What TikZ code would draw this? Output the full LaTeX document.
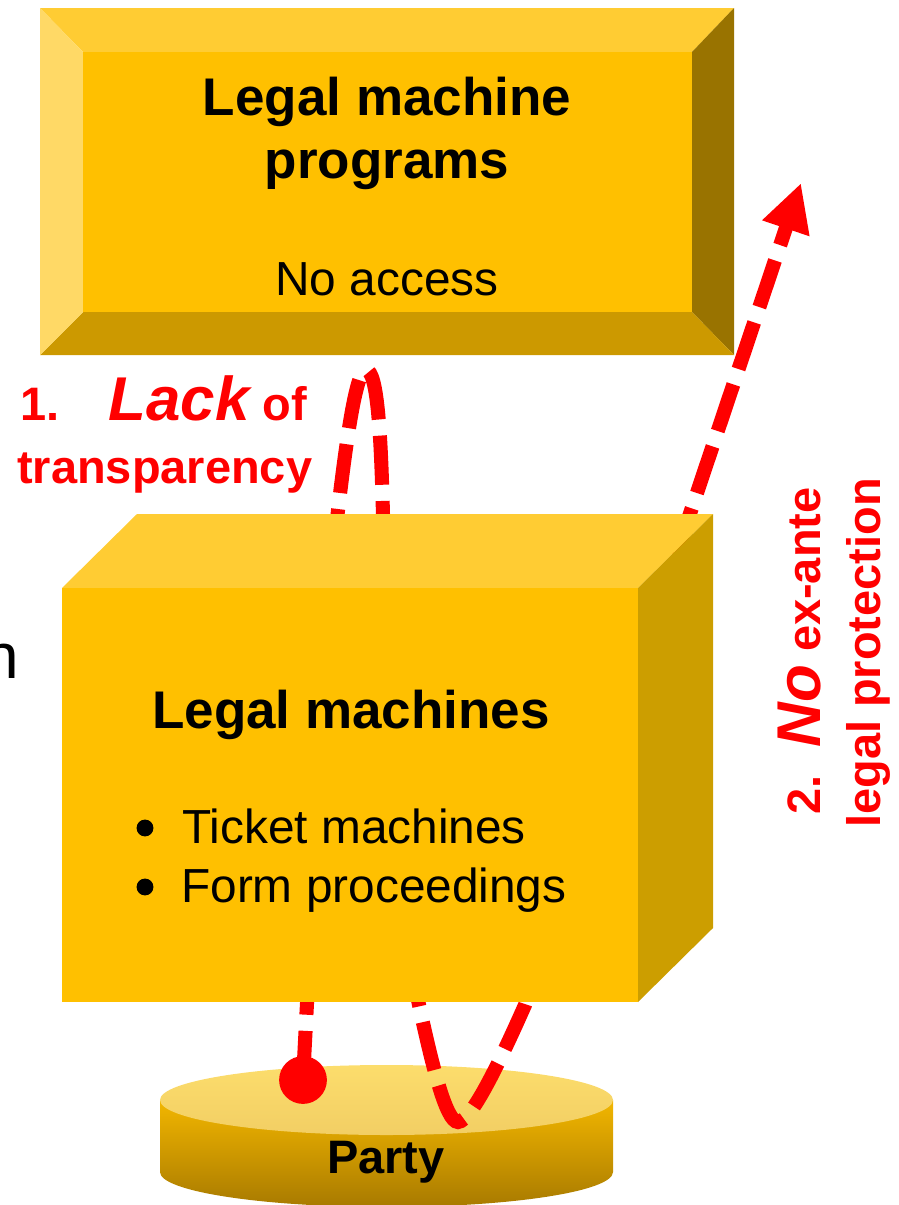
\documentclass[tikz,border=0pt]{standalone}
\usepackage{fontspec}
\setmainfont{Liberation Sans}
\usetikzlibrary{arrows.meta}
\definecolor{boxFace}{RGB}{255,192,0}
\definecolor{boxTop}{RGB}{255,204,51}
\definecolor{boxLeft}{RGB}{255,217,102}
\definecolor{boxRight}{RGB}{153,115,0}
\definecolor{boxBottom}{RGB}{204,153,0}
\definecolor{cubeSide}{RGB}{204,158,0}
\definecolor{partyTopA}{RGB}{252,221,108}
\definecolor{partyTopB}{RGB}{242,206,100}
\definecolor{partySideA}{RGB}{242,182,0}
\definecolor{partySideB}{RGB}{168,122,0}
\definecolor{markColor}{rgb}{1,0,0}
\newcommand{\markBig}[1]{{\fontsize{44}{50}\selectfont\itshape #1}}

\begin{document}
\begin{tikzpicture}[x=0.25mm,y=-0.25mm]

          \tikzstyle{titleText} = [font=\fontsize{37.7}{44}\selectfont\bfseries, anchor=base, inner sep=0pt];
          \tikzstyle{bodyText} = [font=\fontsize{34}{40}\selectfont, anchor=base west, inner sep=0pt];
          \tikzstyle{bulletDot} = [circle, fill=black, inner sep=0pt, minimum size=12pt];
          \tikzstyle{markText} = [markColor, font=\fontsize{33.4}{40}\selectfont\bfseries, anchor=base west, inner sep=0pt];
          \tikzstyle{markEdge} = [markColor, line width=10pt, dash pattern=on 35pt off 11.5pt];
          \tikzstyle{markDot} = [circle, fill=markColor, inner sep=0pt, minimum size=34pt];

          \useasboundingbox (0,0) rectangle (899,1205);

          % party
          \shade[top color=partySideA, bottom color=partySideB] (160,1100) -- (160,1172)
            arc[start angle=180, end angle=0, x radius=226.5, y radius=35] -- (613,1100) -- cycle;
          \shade[top color=partyTopA, bottom color=partyTopB] (386.5,1100) ellipse [x radius=226.5, y radius=35];

          % red connector, behind the boxes
          \node[markDot] (pdot) at (303,1080) {};
          \coordinate (riseA) at (328,600);
          \coordinate (loopTop) at (366,370);
          \coordinate (dropA) at (383,515);
          \coordinate (dropB) at (418,1000);
          \coordinate (turn) at (458,1122);
          \coordinate (riseB) at (525,1005);
          \coordinate (tip) at (801,183);
          \draw[markEdge, -{Triangle[length=34pt,width=33pt]}] (pdot.center) -- (riseA)
            .. controls (342,470) and (354,370) .. (loopTop)
            .. controls (378,370) and (381,440) .. (dropA) -- (dropB)
            .. controls (432,1065) and (446,1122) .. (turn)
            .. controls (472,1122) and (505,1050) .. (riseB) -- (tip);

          % top box
          \fill[boxTop] (40,8) -- (734,8) -- (692,52) -- (83,52) -- cycle;
          \fill[boxRight] (734,8) -- (734,355) -- (692,312) -- (692,52) -- cycle;
          \fill[boxBottom] (40,355) -- (734,355) -- (692,312) -- (83,312) -- cycle;
          \fill[boxLeft] (40,8) -- (40,355) -- (83,312) -- (83,52) -- cycle;
          \fill[boxFace] (83,52) rectangle (692,312);

          % cube
          \fill[boxTop] (62,588) -- (137,514) -- (713,514) -- (638,588) -- cycle;
          \fill[cubeSide] (638,588) -- (713,514) -- (713,928) -- (638,1002) -- cycle;
          \fill[boxFace] (62,588) rectangle (638,1002);

          \node[titleText] (progTitle) at (387,115) {Legal machine};
          \node[titleText] (progTitleB) at (387,178) {programs};
          \node[bodyText, anchor=base] (progNote) at (387,295) {No access};

          \node[titleText] (machTitle) at (351,728) {Legal machines};
          \node[bulletDot] (bulletA) at (145,828) {};
          \node[bodyText] (ticket) at (182,843) {Ticket machines};
          \node[bulletDot] (bulletB) at (145,887) {};
          \node[bodyText] (form) at (181,902) {Form proceedings};

          \node[titleText, font=\fontsize{33.4}{40}\selectfont\bfseries] (party) at (386,1173) {Party};

          \node[bodyText, font=\fontsize{45.5}{50}\selectfont, anchor=base east] (cutoff) at (19,678) {n};

          \node[markText] (lackA) at (20,420) {1.\hspace{35pt}\markBig{Lack} of};
          \node[markText] (lackB) at (17,483) {transparency};
          \node[markText, rotate=90] (noA) at (820,815) {2.\hspace{20pt}\markBig{No} ex-ante};
          \node[markText, rotate=90] (noB) at (880,828) {legal protection};
        \end{tikzpicture}
\end{document}
